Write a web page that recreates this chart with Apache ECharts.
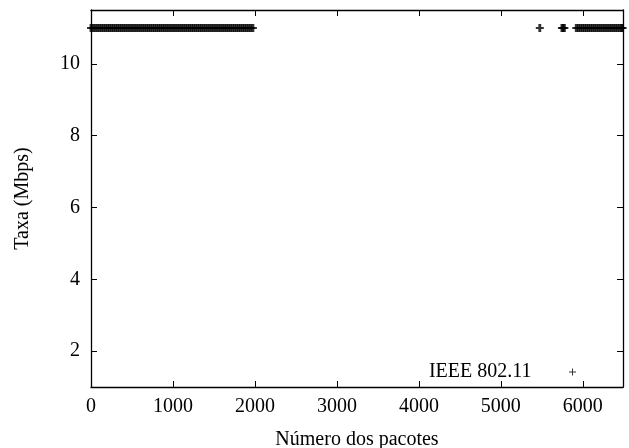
<!DOCTYPE html>
<html>
<head>
<meta charset="utf-8">
<script src="https://cdn.jsdelivr.net/npm/echarts@6/dist/echarts.min.js"></script>
<style>
html,body{margin:0;padding:0;background:#fff;}
#chart{width:629px;height:448px;}
</style>
</head>
<body>
<div id="chart"></div>
<script>
// Packet indices (all at 11 Mbps)
const packetsStart = [0,25,50,75,100,125,150,175,200,225,250,275,300,325,350,375,400,425,450,475,
  500,525,550,575,600,625,650,675,700,725,750,775,800,825,850,875,900,925,950,975,
  1000,1025,1050,1075,1100,1125,1150,1175,1200,1225,1250,1275,1300,1325,1350,1375,1400,1425,1450,1475,
  1500,1525,1550,1575,1600,1625,1650,1675,1700,1725,1750,1775,1800,1825,1850,1875,1900,1925,1950,1975];
const packetsIsolated = [5475, 5745, 5760, 5775];
const packetsEnd = [5920,5945,5970,5995,6020,6045,6070,6095,6120,6145,6170,6195,6220,6245,6270,6295,
  6320,6345,6370,6395,6420,6445,6470,6485];
const rateMbps = 11;
const xTicks = [0,1000,2000,3000,4000,5000,6000];
const yTicks = [2,4,6,8,10];
const seriesName = 'IEEE 802.11';

const points = packetsStart.concat(packetsIsolated, packetsEnd).map(p => [p, rateMbps]);

const FONT = 'Liberation Serif';
const FS = 20;
const plus = 'path://M3.2,0H6.8V3.7H10V6.3H6.8V10H3.2V6.3H0V3.7H3.2Z';
const plusThin = 'path://M4.3,0H5.7V4.3H10V5.7H5.7V10H4.3V5.7H0V4.3H4.3Z';

const axisLineStyle = {color:'#000', width:1.3};
const chart = echarts.init(document.getElementById('chart'), null, {renderer:'canvas'});
chart.setOption({
  animation:false,
  backgroundColor:'#fff',
  textStyle:{fontFamily:FONT, color:'#000'},
  grid:{left:91, right:6, top:10, bottom:61, containLabel:false, outerBoundsMode:'none'},
  legend:{
    right:53, top:362, padding:0, align:'right', itemWidth:72, itemHeight:7,
    textStyle:{fontFamily:FONT, fontSize:FS, color:'#000'},
    data:[{name:seriesName, icon:plusThin}],
    selectedMode:false
  },
  xAxis:[{
    type:'value', min:0, max:6490, position:'bottom',
    name:'Número dos pacotes', nameLocation:'middle', nameGap:43,
    nameTextStyle:{fontFamily:FONT, fontSize:FS, color:'#000'},
    axisLine:{show:true, onZero:false, lineStyle:axisLineStyle},
    axisTick:{show:true, inside:true, length:6, customValues:xTicks, lineStyle:{color:'#000', width:1}},
    axisLabel:{show:true, margin:10, customValues:xTicks, formatter:v => String(v), fontFamily:FONT, fontSize:FS, color:'#000'},
    splitLine:{show:false}
  },{
    type:'value', min:0, max:6490, position:'top',
    axisLine:{show:true, onZero:false, lineStyle:axisLineStyle},
    axisTick:{show:true, inside:true, length:6, customValues:xTicks, lineStyle:{color:'#000', width:1}},
    axisLabel:{show:false},
    splitLine:{show:false}
  }],
  yAxis:[{
    type:'value', min:1, max:11.5, position:'left',
    name:'Taxa (Mbps)', nameLocation:'middle', nameGap:58, nameRotate:90,
    nameTextStyle:{fontFamily:FONT, fontSize:FS, color:'#000'},
    axisLine:{show:true, onZero:false, lineStyle:axisLineStyle},
    axisTick:{show:true, inside:true, length:6, customValues:yTicks, lineStyle:{color:'#000', width:1}},
    axisLabel:{show:true, margin:11, customValues:yTicks, fontFamily:FONT, fontSize:FS, color:'#000'},
    splitLine:{show:false}
  },{
    type:'value', min:1, max:11.5, position:'right',
    axisLine:{show:true, onZero:false, lineStyle:axisLineStyle},
    axisTick:{show:true, inside:true, length:6, customValues:yTicks, lineStyle:{color:'#000', width:1}},
    axisLabel:{show:false},
    splitLine:{show:false}
  }],
  series:[{
    name:seriesName, type:'scatter', xAxisIndex:0, yAxisIndex:0,
    symbol:plus, symbolSize:8,
    itemStyle:{color:'#000'},
    data:points
  }]
});
</script>
</body>
</html>
